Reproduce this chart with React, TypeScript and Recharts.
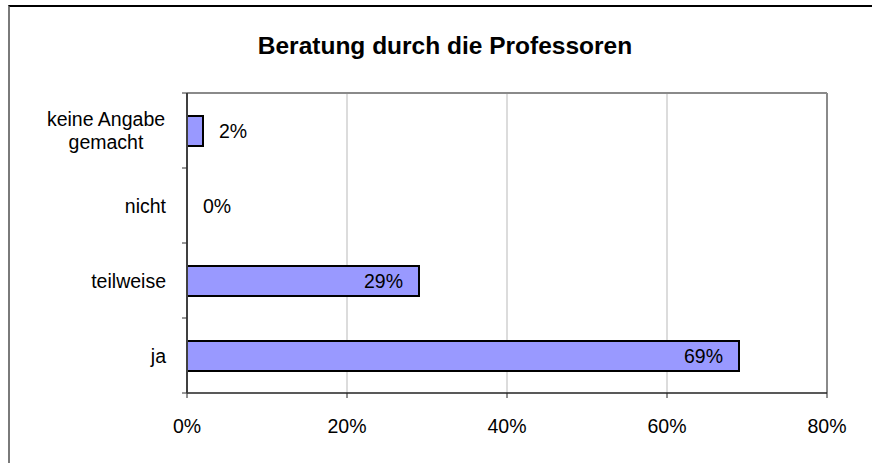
import React from 'react';
import { BarChart, Bar, XAxis, YAxis, CartesianGrid, LabelList, Rectangle } from 'recharts';

const categories = ['keine Angabe\ngemacht', 'nicht', 'teilweise', 'ja'];
const shares = [2, 0, 29, 69];
const xTicks = [0, 20, 40, 60, 80];
const title = 'Beratung durch die Professoren';

const data = categories.map((name, i) => ({ name, value: shares[i] }));

const W = 872;
const H = 463;
const M = { top: 93, right: 45, bottom: 0, left: 17 };
const Y_W = 170;
const X_H = 70;
const PLOT_H = H - M.top - M.bottom - X_H;
const BAND = PLOT_H / categories.length;
const FONT = '"Liberation Sans", Arial, sans-serif';
const FS = 19.5;

const CategoryTick = (props: any) => {
  const { x, y, payload, index } = props;
  const axisX = x + 21;
  const lines: string[] = String(payload.value).split('\n');
  const isLast = index === categories.length - 1;
  return (
    <g>
      <line x1={axisX - 5} x2={axisX} y1={y - BAND / 2} y2={y - BAND / 2} stroke="#333" strokeWidth={1} />
      {isLast && (
        <line x1={axisX - 5} x2={axisX} y1={y + BAND / 2} y2={y + BAND / 2} stroke="#333" strokeWidth={1} />
      )}
      {lines.length === 1 ? (
        <text x={x} y={y} textAnchor="end" dominantBaseline="central" fontFamily={FONT} fontSize={FS} fill="#000">
          {lines[0]}
        </text>
      ) : (
        <text x={x - 60} y={y} textAnchor="middle" fontFamily={FONT} fontSize={FS} fill="#000">
          {lines.map((l, i) => (
            <tspan key={i} x={x - 60} y={y + (i - (lines.length - 1) / 2) * 23} dominantBaseline="central">
              {l}
            </tspan>
          ))}
        </text>
      )}
    </g>
  );
};

const ValueLabel = (props: any) => {
  const { x, y, width, height, value } = props;
  const inside = Number(value) >= 10;
  const w = Number(value) === 0 ? 0 : width;
  return (
    <text
      x={inside ? x + w - 16 : x + w + 16}
      y={y + height / 2}
      textAnchor={inside ? 'end' : 'start'}
      dominantBaseline="central"
      fontFamily={FONT}
      fontSize={FS}
      fill="#000"
    >
      {value}%
    </text>
  );
};

const BarShape = (props: any) => {
  if (!props.width || Math.abs(props.width) < 1) return <g />;
  return <Rectangle {...props} />;
};

export default function App() {
  return (
    <div style={{ position: 'fixed', left: 0, top: 0, width: W, height: H, background: '#fff', overflow: 'hidden' }}>
      <div
        style={{
          position: 'absolute',
          left: 8,
          top: 5,
          width: W + 20,
          height: H + 20,
          borderTop: '2px solid #000',
          borderLeft: '2px solid #7a7a7a',
        }}
      />
      <div
        style={{
          position: 'absolute',
          left: 0,
          top: 34,
          width: 890,
          textAlign: 'center',
          fontFamily: FONT,
          fontWeight: 'bold',
          fontSize: 24.5,
          lineHeight: '24px',
          color: '#000',
        }}
      >
        {title}
      </div>
      <div style={{ position: 'absolute', left: 0, top: 0 }}>
        <BarChart width={W} height={H} data={data} layout="vertical" margin={M}>
          <CartesianGrid horizontal={false} vertical stroke="#d0d0d0" strokeWidth={1.5} />
          <CartesianGrid
            horizontal
            vertical
            stroke="#8a8a8a"
            strokeWidth={2}
            horizontalCoordinatesGenerator={({ offset }: any) => [offset.top]}
            verticalCoordinatesGenerator={({ offset }: any) => [offset.left + offset.width]}
          />
          <XAxis
            type="number"
            domain={[0, 80]}
            ticks={xTicks}
            tickFormatter={(v: number) => `${v}%`}
            height={X_H}
            tickSize={5}
            tickMargin={21}
            axisLine={{ stroke: '#222', strokeWidth: 1.5 }}
            tickLine={{ stroke: '#222', strokeWidth: 1 }}
            tick={{ fill: '#000', fontFamily: FONT, fontSize: FS }}
            interval={0}
          />
          <YAxis
            type="category"
            dataKey="name"
            width={Y_W}
            tickSize={4}
            tickMargin={17}
            tickLine={false}
            axisLine={{ stroke: '#404040', strokeWidth: 2 }}
            tick={<CategoryTick />}
            interval={0}
          />
          <Bar
            dataKey="value"
            fill="#9999FF"
            stroke="#000"
            strokeWidth={2}
            barSize={30}
            minPointSize={0.01}
            shape={<BarShape />}
            isAnimationActive={false}
          >
            <LabelList dataKey="value" content={<ValueLabel />} />
          </Bar>
        </BarChart>
      </div>
    </div>
  );
}
